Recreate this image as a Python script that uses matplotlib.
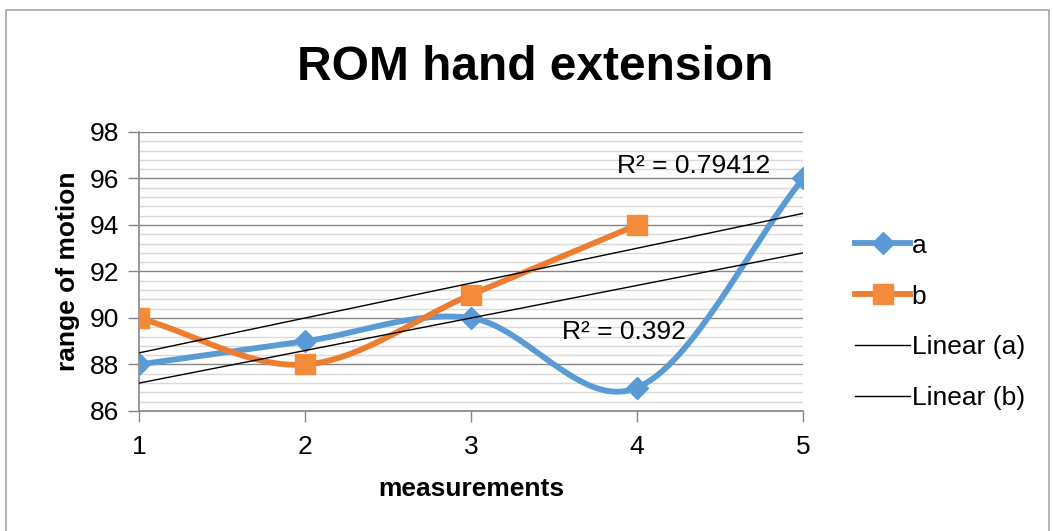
import numpy as np
import matplotlib.pyplot as plt
from matplotlib.patches import Rectangle

plt.rcParams['font.family'] = ['Liberation Sans', 'DejaVu Sans']

# data
x_a = [1, 2, 3, 4, 5]
a = [88, 89, 90, 87, 96]
x_b = [1, 2, 3, 4]
b = [90, 88, 91, 94]
r2_labels = ['R² = 0.392', 'R² = 0.79412']
x_ticks = [1, 2, 3, 4, 5]
y_ticks = [86, 88, 90, 92, 94, 96, 98]

blue = '#5B9BD5'
orange = '#ED7D31'


def smooth(xs, ys, n=40):
    # Excel-style smoothed line (Catmull-Rom through the points)
    xs = np.asarray(xs, float)
    ys = np.asarray(ys, float)
    px = np.concatenate([[2 * xs[0] - xs[1]], xs, [2 * xs[-1] - xs[-2]]])
    py = np.concatenate([[2 * ys[0] - ys[1]], ys, [2 * ys[-1] - ys[-2]]])
    out_x, out_y = [], []
    t = np.linspace(0, 1, n)
    h00 = 2 * t**3 - 3 * t**2 + 1
    h10 = t**3 - 2 * t**2 + t
    h01 = -2 * t**3 + 3 * t**2
    h11 = t**3 - t**2
    for i in range(1, len(px) - 2):
        mx0 = (px[i + 1] - px[i - 1]) / 2
        mx1 = (px[i + 2] - px[i]) / 2
        my0 = (py[i + 1] - py[i - 1]) / 2
        my1 = (py[i + 2] - py[i]) / 2
        out_x.extend(h00 * px[i] + h10 * mx0 + h01 * px[i + 1] + h11 * mx1)
        out_y.extend(h00 * py[i] + h10 * my0 + h01 * py[i + 1] + h11 * my1)
    return out_x, out_y


fig = plt.figure(figsize=(10.53, 5.31), dpi=100)
fig.patches.append(Rectangle((6 / 1053, -0.01), 1043 / 1053, 1 - 10 / 531 + 0.01,
                             transform=fig.transFigure, fill=False,
                             edgecolor='#A6A6A6', linewidth=1.2))

ax = fig.add_axes([139 / 1053, 1 - 411 / 531, 664 / 1053, 279 / 531])

# gridlines
ax.set_yticks(y_ticks)
ax.set_yticks(np.arange(86, 98.01, 0.4), minor=True)
ax.grid(True, which='minor', axis='y', color='#D9D9D9', linewidth=1)
ax.grid(True, which='major', axis='y', color='#868686', linewidth=1)
ax.set_axisbelow(True)

# trendlines
xx = np.array([1, 5])
ka = np.polyfit(x_a, a, 1)
kb = np.polyfit(x_b, b, 1)

sx, sy = smooth(x_a, a)
ax.plot(sx, sy, color=blue, linewidth=4.2, zorder=3)
ax.plot(x_a, a, linestyle='none', marker='D', markersize=11, color=blue, zorder=4)
sx, sy = smooth(x_b, b)
ax.plot(sx, sy, color=orange, linewidth=4.2, zorder=3)
ax.plot(x_b, b, linestyle='none', marker='s', markersize=15, color='#F38B3A', zorder=4)

ax.plot(xx, np.polyval(ka, xx), color='black', linewidth=1, zorder=5)
ax.plot(xx, np.polyval(kb, xx), color='black', linewidth=1, zorder=5)

ax.text(3.55, 89.4, r2_labels[0], fontsize=19, va='center', zorder=6)
ax.text(3.88, 96.54, r2_labels[1], fontsize=19, va='center', zorder=6)

# legend entries
la, = ax.plot([], [], color=blue, linewidth=4.2, marker='D', markersize=11)
lb, = ax.plot([], [], color=orange, linewidth=4.2, marker='s', markersize=15,
              markerfacecolor='#F38B3A', markeredgecolor='#F38B3A')
lla, = ax.plot([], [], color='black', linewidth=1)
llb, = ax.plot([], [], color='black', linewidth=1)
fig.legend([la, lb, lla, llb], ['a', 'b', 'Linear (a)', 'Linear (b)'],
           loc='center left', bbox_to_anchor=(855 / 1053, 1 - 322 / 531),
           frameon=False, fontsize=19, handlelength=2.1, handletextpad=0.05,
           labelspacing=1.02, borderpad=0, borderaxespad=0)

ax.set_xlim(1, 5)
ax.set_ylim(86, 98)
ax.set_xticks(x_ticks)
ax.tick_params(axis='both', which='major', labelsize=19, length=8,
               color='#868686', width=1)
ax.tick_params(axis='y', which='minor', length=0)
ax.tick_params(axis='x', pad=9)
ax.tick_params(axis='y', pad=6)
for s in ['top', 'right']:
    ax.spines[s].set_visible(False)
for s in ['left', 'bottom']:
    ax.spines[s].set_color('#868686')
    ax.spines[s].set_linewidth(1.2)

fig.text(535 / 1053, 1 - 68 / 531, 'ROM hand extension', fontsize=34.5,
         fontweight='bold', ha='center', va='center')
ax.set_xlabel('measurements', fontsize=19, fontweight='bold', labelpad=13)
ax.set_ylabel('range of motion', fontsize=19, fontweight='bold', labelpad=7)

plt.savefig('out.png', dpi=100)
